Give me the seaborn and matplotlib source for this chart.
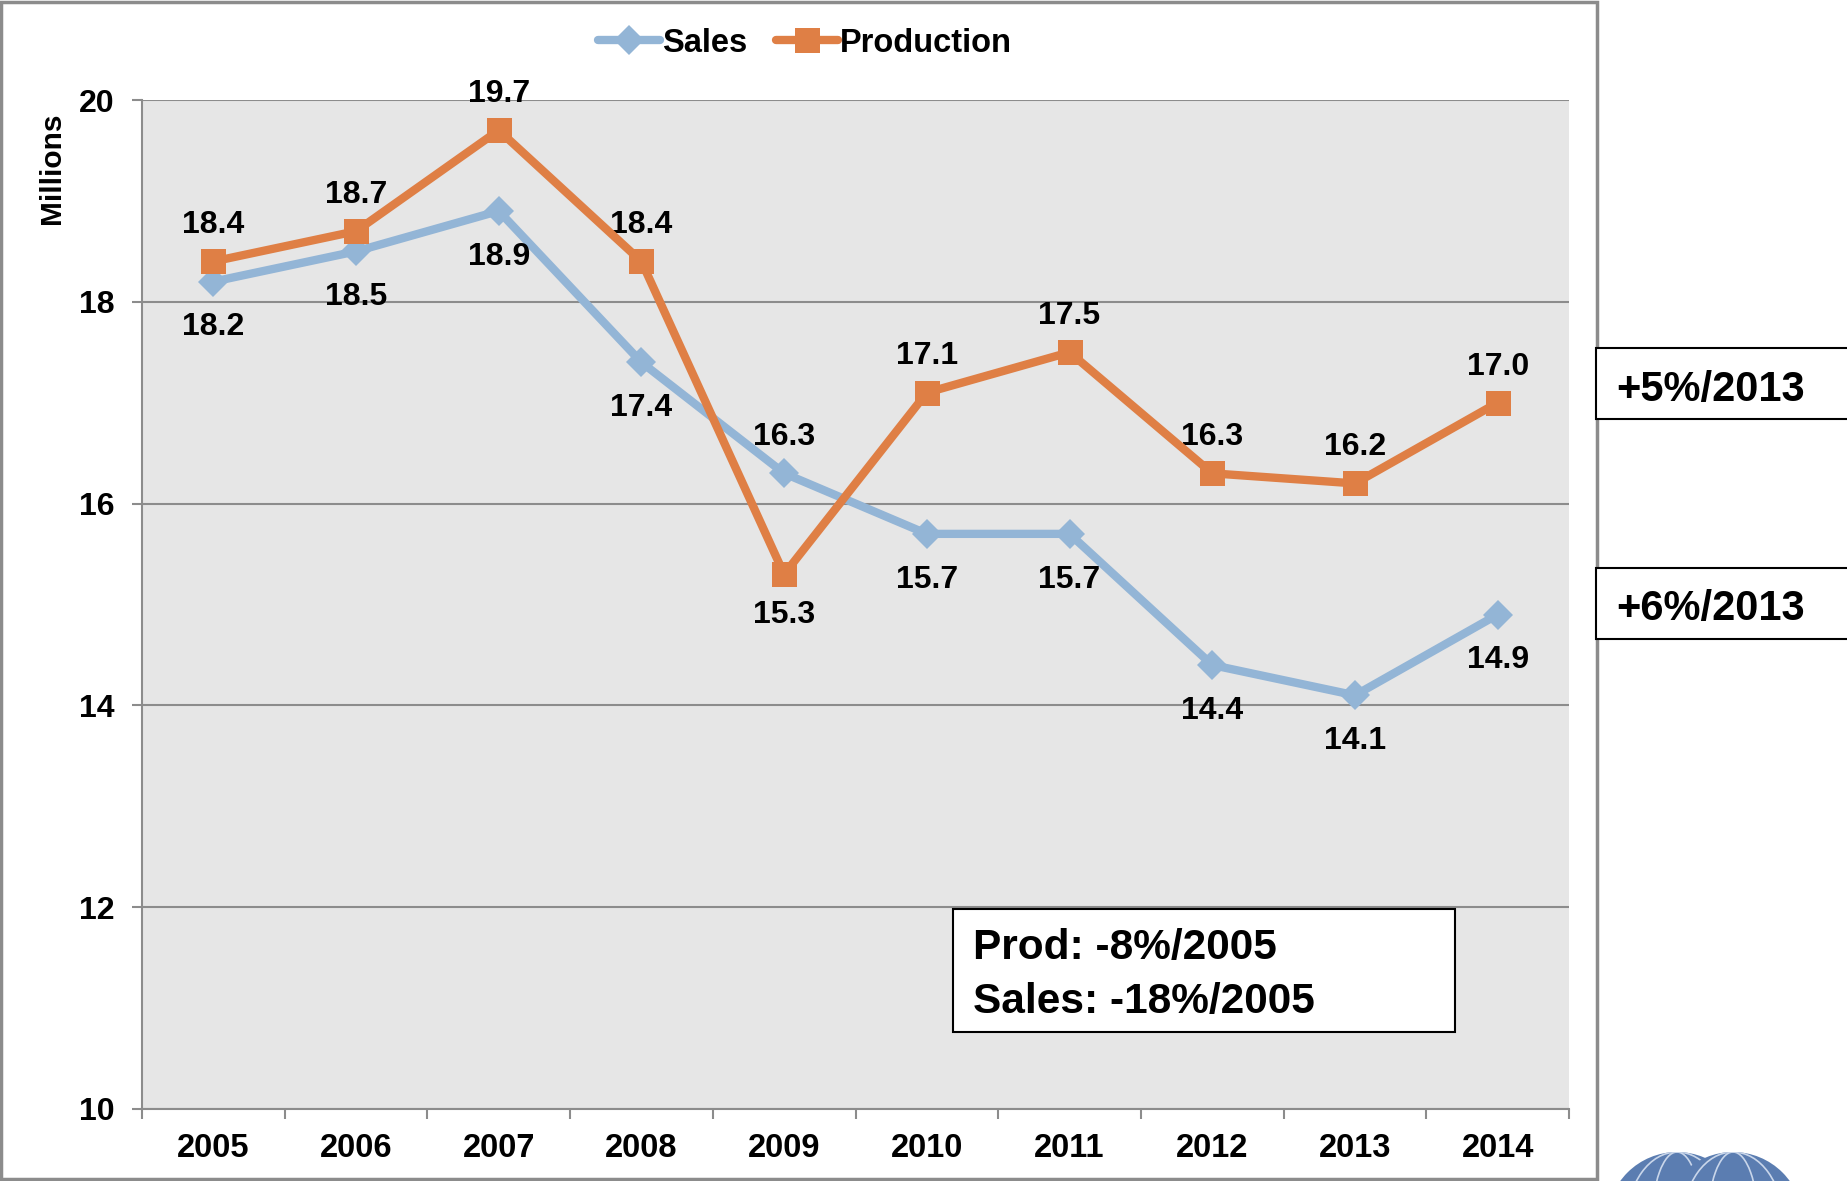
import numpy as np
import pandas as pd
import matplotlib
matplotlib.use("Agg")
import matplotlib.pyplot as plt
from matplotlib.patches import Rectangle, Circle, Ellipse
from matplotlib.ticker import FixedLocator
import seaborn as sns

# data (millions)
years = ["2005", "2006", "2007", "2008", "2009", "2010", "2011", "2012", "2013", "2014"]
sales = [18.2, 18.5, 18.9, 17.4, 16.3, 15.7, 15.7, 14.4, 14.1, 14.9]
production = [18.4, 18.7, 19.7, 18.4, 15.3, 17.1, 17.5, 16.3, 16.2, 17.0]
# +1 = label above the point, -1 = below
sales_side = [-1, -1, -1, -1, 1, -1, -1, -1, -1, -1]
prod_side = [1, 1, 1, 1, -1, 1, 1, 1, 1, 1]
y_ticks = [10, 12, 14, 16, 18, 20]
right_notes = ["+5%/2013", "+6%/2013"]
box_lines = ["Prod: -8%/2005", "Sales: -18%/2005"]

BLUE = "#93B5D6"
ORANGE = "#DF7F45"
GREY = "#8C8C8C"

sns.set_style("white")
plt.rcParams["font.family"] = ["Liberation Sans", "DejaVu Sans"]
plt.rcParams["font.weight"] = "bold"
plt.rcParams["text.color"] = "black"
plt.rcParams["xtick.labelcolor"] = "black"
plt.rcParams["ytick.labelcolor"] = "black"

W, H = 1847, 1181
df = pd.DataFrame({"pos": np.arange(len(years)), "Sales": sales, "Production": production})

fig = plt.figure(figsize=(W / 100, H / 100), dpi=100)
ax = fig.add_axes([142 / W, 1 - 1109 / H, (1569 - 142) / W, (1109 - 100) / H])
ax.set_facecolor("#E6E6E6")

sns.lineplot(data=df, x="pos", y="Sales", ax=ax, color=BLUE, lw=6,
             marker="D", markersize=15, markeredgewidth=0, label="Sales", zorder=3)
sns.lineplot(data=df, x="pos", y="Production", ax=ax, color=ORANGE, lw=6,
             marker="s", markersize=18, markeredgewidth=0, label="Production", zorder=4)

# value labels
def offset(side, above, below):
    return above if side > 0 else -below

for i in range(len(years)):
    ax.annotate(f"{sales[i]:.1f}", (i, sales[i]), xytext=(0, offset(sales_side[i], 26, 33)),
                textcoords="offset points", ha="center", va="center", fontsize=23,
                weight="bold", color="black")
    ax.annotate(f"{production[i]:.1f}", (i, production[i]), xytext=(0, offset(prod_side[i], 26, 29)),
                textcoords="offset points", ha="center", va="center", fontsize=23,
                weight="bold", color="black")

ax.set_xlim(-0.5, len(years) - 0.5)
ax.set_ylim(10, 20)
ax.set_xticks(range(len(years)))
ax.set_xticklabels(years)
ax.xaxis.set_minor_locator(FixedLocator(np.arange(-0.5, len(years), 1)))
ax.tick_params(axis="x", which="major", length=0, pad=17, labelsize=23.5, labelcolor="black")
ax.tick_params(axis="x", which="minor", length=7, width=1.5, color=GREY, direction="out", bottom=True)
ax.set_yticks(y_ticks)
ax.tick_params(axis="y", length=7, width=1.5, color=GREY, direction="out", pad=13, labelsize=23,
               left=True, labelcolor="black")
ax.grid(axis="y", color=GREY, lw=1.5)
ax.grid(axis="x", visible=False)
ax.set_axisbelow(True)
for s in ["top", "right"]:
    ax.spines[s].set_visible(False)
for s in ["left", "bottom"]:
    ax.spines[s].set_color(GREY)
    ax.spines[s].set_linewidth(1.5)
ax.set_xlabel("")
ax.set_ylabel("")

fig.text(52 / W, 1 - 168 / H, "Millions", rotation=90, ha="center", va="center",
         fontsize=21.5, weight="bold", color="black")

handles, labels = ax.get_legend_handles_labels()
ax.get_legend().remove()
fig.legend(handles, labels, loc="center", bbox_to_anchor=(805 / W, 1 - 43 / H),
           ncol=2, frameon=False, handlelength=1.9, handletextpad=0.05,
           columnspacing=0.9, prop={"weight": "bold", "size": 23.5}, labelcolor="black")

# outer chart frame
fig.add_artist(Rectangle((1 / W, 2 / H), 1596 / W, 1177 / H, transform=fig.transFigure,
                         fill=False, ec=GREY, lw=2.5))

# right-hand notes
for note, (top, bot), base in zip(right_notes, [(348, 419), (568, 639)], [401, 620]):
    fig.add_artist(Rectangle((1596 / W, 1 - bot / H), 260 / W, (bot - top) / H,
                             transform=fig.transFigure, fc="white", ec="black", lw=1.5))
    fig.text(1616 / W, 1 - base / H, note, ha="left", va="baseline",
             fontsize=30, weight="bold", color="black")

# summary box
fig.add_artist(Rectangle((953 / W, 1 - 1032 / H), (1455 - 953) / W, (1032 - 909) / H,
                         transform=fig.transFigure, fc="white", ec="black", lw=1.5, zorder=5))
for line, base in zip(box_lines, [959, 1013]):
    fig.text(973 / W, 1 - base / H, line, ha="left", va="baseline",
             fontsize=30.5, weight="bold", color="black", zorder=6)

# logo peeking in at bottom right
for cx in [16.77, 17.33]:
    dome = Circle((cx, -0.41), 0.70, transform=fig.dpi_scale_trans, fc="#5B7DB1", ec="none")
    fig.add_artist(dome)
    for w in [0.5, 1.0]:
        arc = Ellipse((cx, -0.41), w, 1.4, transform=fig.dpi_scale_trans, fill=False,
                      ec="#C9D6EA", lw=1.2)
        fig.add_artist(arc)
        arc.set_clip_path(dome)

fig.savefig("out.png", dpi=100)
